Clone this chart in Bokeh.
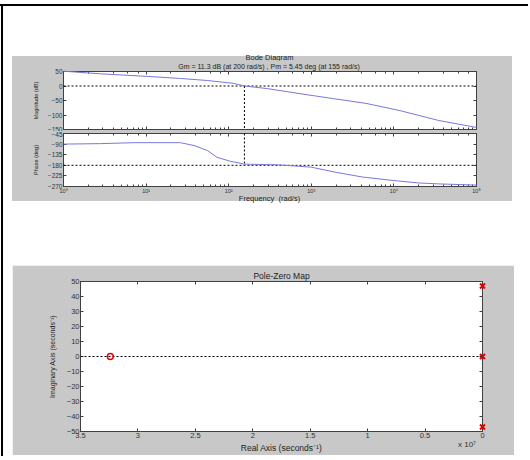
from bokeh.plotting import figure
from bokeh.models import (Range1d, LogAxis, LinearAxis, FixedTicker, CustomJSTickFormatter,
                          Span, Spacer, Div)
from bokeh.layouts import column, row
from bokeh.embed import file_html
from bokeh.resources import INLINE

# ---------------- data ----------------
mag_freq = [1, 2.8, 10.5, 26, 55, 115, 155, 295, 710, 1800, 4600, 11500, 35000, 100000]
mag_db = [51, 42, 33, 26, 19, 9, 0, -9, -26, -43, -60, -84, -119, -143]
phase_freq = [1, 2.8, 7.1, 26, 38, 55, 72, 105, 138, 151, 400, 1000, 2000, 4200, 9500, 20000, 35000, 100000]
phase_deg = [-90, -88, -84, -84, -96, -117, -146, -163, -171, -175, -178, -188, -210, -230, -244, -255, -259, -264]
crossover_freq = [155]
mag_ticks = [-150, -100, -50, 0, 50]
phase_ticks = [-270, -225, -180, -135, -90, -45]
freq_range = [1, 100000]

pole_re = [0, 0, 0]
pole_im = [47, 0, -47]
zero_re = [-3.24e7]
zero_im = [0]
pz_x_ticks = [-3.5e7, -3e7, -2.5e7, -2e7, -1.5e7, -1e7, -0.5e7, 0]
pz_y_ticks = [-50, -40, -30, -20, -10, 0, 10, 20, 30, 40, 50]

GRAY = "#c8c8c8"
AX = "#404040"
FONT = "Liberation Sans"
CURVE = "#7878dc"

sup_fmt = CustomJSTickFormatter(code="""
const s = {"0":"\u2070","1":"\u00b9","2":"\u00b2","3":"\u00b3","4":"\u2074","5":"\u2075",
           "6":"\u2076","7":"\u2077","8":"\u2078","9":"\u2079","-":"\u207b"};
const e = Math.round(Math.log10(tick));
return "10" + String(e).split("").map(c => s[c]).join("");
""")
blank_fmt = CustomJSTickFormatter(code="return '';")


def style_axis(ax, labels=True, minor=False, size="6.5px"):
    ax.axis_line_color = AX
    ax.major_tick_in = 3
    ax.major_tick_out = 0
    ax.major_tick_line_color = AX
    if minor:
        ax.minor_tick_in = 2
        ax.minor_tick_out = 0
        ax.minor_tick_line_color = AX
    else:
        ax.minor_tick_line_color = None
    ax.major_label_standoff = 1
    ax.major_label_text_font = FONT
    ax.major_label_text_color = "#333333"
    ax.axis_label_text_font = FONT
    ax.axis_label_text_font_style = "normal"
    ax.axis_label_text_color = "#222222"
    if labels:
        ax.major_label_text_font_size = size
    else:
        ax.formatter = blank_fmt
        ax.major_label_text_font_size = "0px"
        ax.major_label_standoff = 0


def base(p):
    p.border_fill_color = GRAY
    p.background_fill_color = "white"
    p.outline_line_color = AX
    p.xgrid.visible = False
    p.ygrid.visible = False


def strip(text, height, size="7.5px", pad_left=15):
    return Div(text=text, width=500, height=height, margin=0,
               styles={"background-color": GRAY, "font-family": FONT, "font-size": size,
                       "line-height": f"{height}px", "text-align": "center", "color": "#222222",
                       "padding-left": f"{pad_left}px", "box-sizing": "border-box",
                       "overflow": "visible", "white-space": "pre"})


# ---------------- magnitude ----------------
pm = figure(x_axis_type="log", x_range=Range1d(*freq_range), y_range=Range1d(-150, 50),
            frame_width=413, frame_height=58, min_border_left=51, min_border_right=36,
            min_border_top=11, min_border_bottom=2, output_backend="svg",
            toolbar_location=None,
            title="Gm = 11.3 dB (at 200 rad/s) ,  Pm = 5.45 deg (at 155 rad/s)")
base(pm)
pm.title.text_font = FONT
pm.title.text_font_size = "7px"
pm.title.text_font_style = "normal"
pm.title.text_color = "#222222"
pm.title.align = "center"
pm.title.vertical_align = "top"
pm.title.standoff = 0
pm.title.offset = 0
pm.yaxis.ticker = FixedTicker(ticks=mag_ticks)
pm.yaxis.axis_label = "Magnitude (dB)"
style_axis(pm.yaxis[0])
pm.yaxis.axis_label_text_font_size = "5.5px"
pm.yaxis.axis_label_standoff = 6
style_axis(pm.xaxis[0], labels=False, minor=True)
ax_top = LogAxis(); style_axis(ax_top, labels=False, minor=True); pm.add_layout(ax_top, "above")
ax_r = LinearAxis(ticker=FixedTicker(ticks=mag_ticks)); style_axis(ax_r, labels=False); pm.add_layout(ax_r, "right")
pm.add_layout(Span(location=0, dimension="width", line_color="black", line_dash="2 2", line_width=1))
pm.segment(x0=crossover_freq, y0=[0], x1=crossover_freq, y1=[-150], line_color="black",
           line_dash="2 2", line_width=1, level="overlay")
pm.line(mag_freq, mag_db, line_color=CURVE, line_width=1, level="overlay")

# ---------------- phase ----------------
pp = figure(x_axis_type="log", x_range=pm.x_range, y_range=Range1d(-270, -45),
            frame_width=413, frame_height=53, min_border_left=51, min_border_right=36,
            min_border_top=2, min_border_bottom=2, output_backend="svg", toolbar_location=None)
base(pp)
pp.yaxis.ticker = FixedTicker(ticks=phase_ticks)
pp.yaxis.axis_label = "Phase (deg)"
style_axis(pp.yaxis[0])
pp.yaxis.axis_label_text_font_size = "5.5px"
pp.yaxis.axis_label_standoff = 6
style_axis(pp.xaxis[0], minor=True, size="5.5px")
pp.xaxis.formatter = sup_fmt
pp.xaxis.major_label_standoff = 1
ax_top2 = LogAxis(); style_axis(ax_top2, labels=False, minor=True); pp.add_layout(ax_top2, "above")
ax_r2 = LinearAxis(ticker=FixedTicker(ticks=phase_ticks)); style_axis(ax_r2, labels=False); pp.add_layout(ax_r2, "right")
pp.add_layout(Span(location=-180, dimension="width", line_color="black", line_dash="2 2", line_width=1))
pp.segment(x0=crossover_freq, y0=[-45], x1=crossover_freq, y1=[-180], line_color="black",
           line_dash="2 2", line_width=1, level="overlay")
pp.line(phase_freq, phase_deg, line_color=CURVE, line_width=1, level="overlay")

# ---------------- pole-zero ----------------
pz = figure(x_range=Range1d(pz_x_ticks[0], pz_x_ticks[-1]), y_range=Range1d(pz_y_ticks[0], pz_y_ticks[-1]),
            frame_width=402, frame_height=150, min_border_left=68, min_border_right=32,
            min_border_top=16, min_border_bottom=22, output_backend="svg", toolbar_location=None,
            title="Pole-Zero Map")
base(pz)
pz.title.text_font = FONT
pz.title.text_font_size = "8.5px"
pz.title.text_font_style = "normal"
pz.title.text_color = "#222222"
pz.title.align = "center"
pz.title.standoff = 2
pz.xaxis.ticker = FixedTicker(ticks=pz_x_ticks)
pz.xaxis.formatter = CustomJSTickFormatter(code="return String(Math.round(Math.abs(tick) / 1e6) / 10);")
pz.yaxis.ticker = FixedTicker(ticks=pz_y_ticks)
style_axis(pz.xaxis[0], size="7.5px")
style_axis(pz.yaxis[0], size="7.5px")
pz.xaxis.axis_label = "Real Axis (seconds\u207b\u00b9)"
pz.xaxis.axis_label_text_font_size = "8.5px"
pz.xaxis.axis_label_standoff = 2
pz.yaxis.axis_label = "Imaginary Axis (seconds\u207b\u00b9)"
pz.yaxis.axis_label_text_font_size = "7px"
pz.yaxis.axis_label_standoff = 8
ax_t3 = LinearAxis(ticker=FixedTicker(ticks=pz_x_ticks)); style_axis(ax_t3, labels=False); pz.add_layout(ax_t3, "above")
ax_r3 = LinearAxis(ticker=FixedTicker(ticks=pz_y_ticks)); style_axis(ax_r3, labels=False); pz.add_layout(ax_r3, "right")
pz.add_layout(Span(location=0, dimension="width", line_color="black", line_dash="2 2", line_width=1))
pz.scatter(pole_re, pole_im, marker="x", size=7, line_color="#e00000", line_width=2, level="overlay")
pz.scatter(zero_re, zero_im, marker="circle", size=6, line_color="#e00000", fill_color=None,
           line_width=1.5, level="overlay")

scale_note = Div(text="x 10\u2077", width=40, height=0, margin=0,
                 styles={"font-family": FONT, "font-size": "8px", "color": "#333333",
                         "transform": "translate(455px, -15px)", "z-index": "10",
                         "overflow": "visible", "white-space": "pre", "line-height": "10px"})

bode = column(strip("Bode Diagram", 4), pm, pp, strip("Frequency  (rad/s)", 5),
              styles={"background-color": GRAY})

inner = column(
    Spacer(width=10, height=50),
    row(Spacer(width=9, height=10), bode),
    Spacer(width=10, height=64),
    row(Spacer(width=9, height=10), pz),
    scale_note,
)
layout = column(
    Spacer(width=10, height=4),
    Div(width=528, height=2, margin=0, styles={"background-color": "black"}),
    row(Spacer(width=1, height=10),
        Div(width=2, height=450, margin=0, styles={"background-color": "black"}),
        inner),
)

open("out.html", "w").write(file_html(layout, INLINE))
